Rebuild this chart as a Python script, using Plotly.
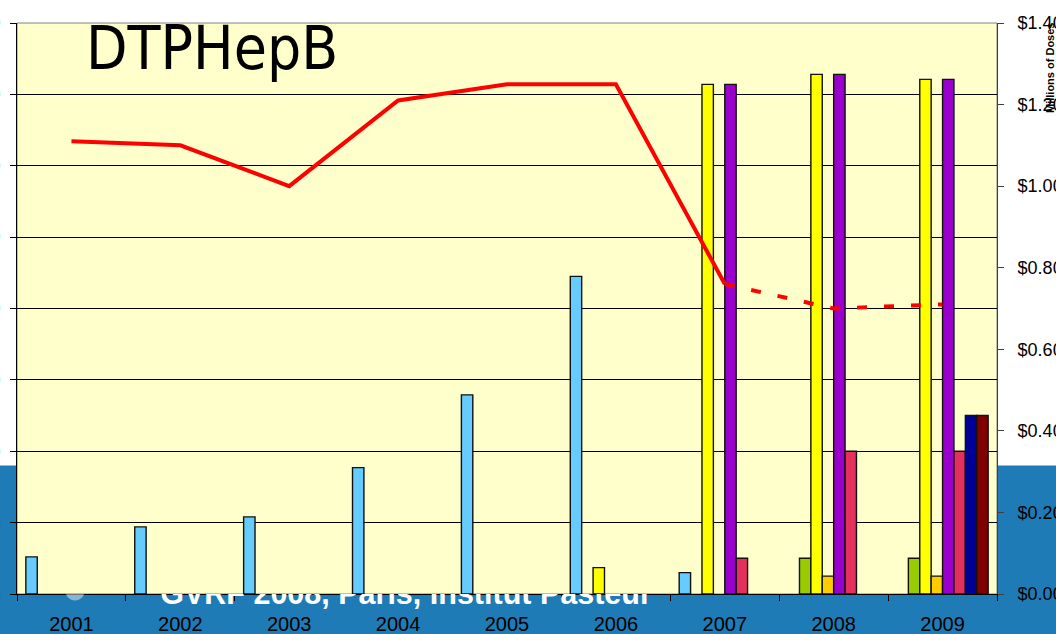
import plotly.graph_objects as go

years = ["2001", "2002", "2003", "2004", "2005", "2006", "2007", "2008", "2009"]

# millions of doses, left axis (one list per supplier / presentation)
supplier_1 = [5.2, 9.4, 10.8, 17.7, 27.9, 44.5, 3.0, None, None]
supplier_2 = [None, None, None, None, None, None, None, 5.0, 5.0]
supplier_3 = [None, None, None, None, None, 3.7, 71.4, 72.8, 72.1]
supplier_4 = [None, None, None, None, None, None, None, 2.5, 2.5]
supplier_5 = [None, None, None, None, None, None, 71.4, 72.8, 72.1]
supplier_6 = [None, None, None, None, None, None, 5.0, 20.0, 20.0]
supplier_7 = [None, None, None, None, None, None, None, None, 25.0]
supplier_8 = [None, None, None, None, None, None, None, None, 25.0]

# weighted price per dose, right axis
price = [1.11, 1.10, 1.00, 1.21, 1.25, 1.25, 0.76, None, None]
price_forecast = [None, None, None, None, None, None, 0.76, 0.70, 0.71]

left_ticks = [0, 10, 20, 30, 40, 50, 60, 70, 80]
right_ticks = [0, 0.2, 0.4, 0.6, 0.8, 1.0, 1.2, 1.4]
right_labels = ["$%.2f" % v for v in right_ticks]

title = "DTPHepB"
axis_note = "Millions of Doses"
footer = "GVRF 2008, Paris, Institut Pasteur"

# page geometry (pixels)
W, H = 1056, 634
L, R, T, B = 17, 59, 23, 0
plot_w = W - L - R
plot_h = H - T - B
zero_y = 594


def px(x):
    return (x - L) / plot_w


def py(y):
    return (H - B - y) / plot_h


series = [
    ("Supplier 1", supplier_1, "#66CCFF"),
    ("Supplier 2", supplier_2, "#99CC00"),
    ("Supplier 3", supplier_3, "#FFFF00"),
    ("Supplier 4", supplier_4, "#FFCC00"),
    ("Supplier 5", supplier_5, "#9900CC"),
    ("Supplier 6", supplier_6, "#E3305E"),
    ("Supplier 7", supplier_7, "#000099"),
    ("Supplier 8", supplier_8, "#800000"),
]

fig = go.Figure()

for name, vals, col in series:
    fig.add_trace(go.Bar(x=years, y=vals, name=name, marker_color=col,
                         marker_line=dict(color="#111111", width=1.4)))

fig.add_trace(go.Scatter(x=years, y=price, yaxis="y2", mode="lines", name="Price per dose",
                         line=dict(color="#FF0000", width=4)))
fig.add_trace(go.Scatter(x=years, y=price_forecast, yaxis="y2", mode="lines", name="Price per dose (forecast)",
                         line=dict(color="#FF0000", width=4, dash="10px,17px")))

# footer of the slide sits behind the chart, so clip it to the strip under the plot
fig.add_trace(go.Scatter(x=[75], y=[591], xaxis="x3", yaxis="y3", mode="markers", cliponaxis=True,
                         marker=dict(size=19, color="rgba(255,255,255,0.45)"), hoverinfo="skip"))
fig.add_trace(go.Scatter(x=[406], y=[596.5], xaxis="x3", yaxis="y3", mode="text", text=[footer],
                         cliponaxis=True, hoverinfo="skip",
                         textfont=dict(family="Liberation Sans, Arial", size=30.5, color="white", weight="bold")))

tick_font = dict(family="Liberation Sans, Arial", size=18, color="black")

fig.update_layout(
    template="none",
    width=W, height=H,
    margin=dict(l=L, r=R, t=T, b=B, pad=0),
    paper_bgcolor="white",
    plot_bgcolor="rgba(0,0,0,0)",
    showlegend=False,
    barmode="group",
    bargap=0.1625,
    bargroupgap=0,
    xaxis=dict(type="category", domain=[0, 1], anchor="y", tickson="boundaries",
               ticks="outside", ticklen=6, tickcolor="black", showline=True, linecolor="black",
               showgrid=False, tickfont=dict(family="Liberation Sans, Arial", size=20, color="black"),
               ticklabelstandoff=12),
    yaxis=dict(domain=[py(zero_y), 1], range=[0, 80], tickvals=left_ticks, ticks="outside", ticklen=6,
               tickcolor="black", showline=True, linecolor="black", showgrid=True, gridcolor="black",
               gridwidth=1, zeroline=False, tickfont=tick_font, ticklabelstandoff=6),
    yaxis2=dict(overlaying="y", side="right", range=[0, 1.4], tickvals=right_ticks, ticktext=right_labels,
                ticks="outside", ticklen=6, tickcolor="#404040", showline=True,
                linecolor="#404040", showgrid=False, zeroline=False, tickfont=tick_font,
                ticklabelstandoff=10),
    xaxis3=dict(domain=[0, 1], anchor="y3", range=[L, W - R], visible=False, fixedrange=True),
    yaxis3=dict(domain=[0, py(zero_y)], anchor="x3", range=[H, zero_y], visible=False, fixedrange=True),
)

# slide background band and the chart's pale plot area
fig.add_shape(type="rect", xref="paper", yref="paper", x0=px(0), x1=px(W), y0=py(H), y1=py(465.5),
              fillcolor="#1F7BB5", line_width=0, layer="below")
fig.add_shape(type="rect", xref="x domain", yref="y domain", x0=0, x1=1, y0=0, y1=1,
              fillcolor="#FFFFCC", line=dict(color="#808080", width=1), layer="below")

fig.add_annotation(text=title, xref="paper", yref="paper", x=px(84), y=py(48), xanchor="left",
                   yanchor="middle", showarrow=False,
                   font=dict(family="DejaVu Sans Condensed, DejaVu Sans", size=60, color="black"))
fig.add_annotation(text=axis_note, xref="paper", yref="paper", x=px(1050), y=py(68), textangle=-90,
                   xanchor="center", yanchor="middle", showarrow=False,
                   font=dict(family="Liberation Sans, Arial", size=11, color="black", weight="bold"))

# page body has a default 8px margin; drop it so the figure fills the window
fig.write_html("out.html", config={"displayModeBar": False},
               post_script="document.body.style.margin='0';")
